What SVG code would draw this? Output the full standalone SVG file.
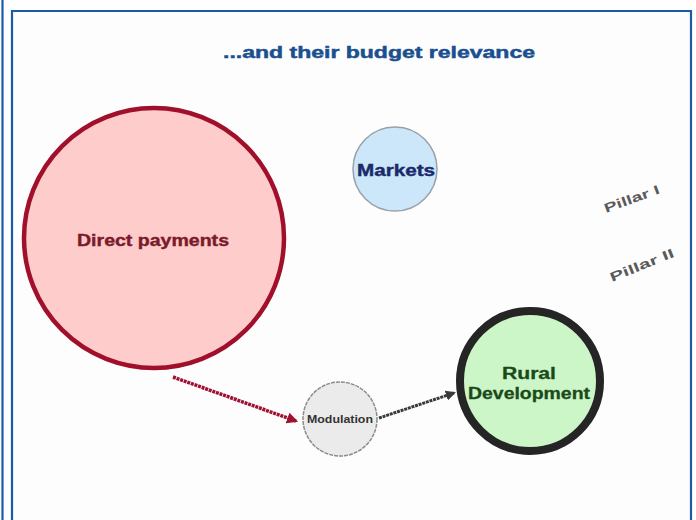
<svg xmlns="http://www.w3.org/2000/svg" width="696" height="520" viewBox="0 0 696 520">
  <style>
    .frame { fill: none; stroke: #1a5aa8; stroke-width: 2.2; }
    .lbl { font-family: "Liberation Sans", Arial, sans-serif; font-weight: bold; text-anchor: middle; }
    .pillar { font-family: "Liberation Sans", Arial, sans-serif; font-weight: bold; font-size: 13px; fill: #5a5a5a; }
  </style>
  <defs>
    <marker id="headRed" viewBox="0 0 10 10" refX="8" refY="5" markerWidth="3.2" markerHeight="3.2" orient="auto">
      <path d="M0,0 L10,5 L0,10 z" fill="#a01030"/>
    </marker>
    <marker id="headGray" viewBox="0 0 10 10" refX="8" refY="5" markerWidth="3.4" markerHeight="3.4" orient="auto">
      <path d="M0,0 L10,5 L0,10 z" fill="#3a3a3a"/>
    </marker>
  </defs>

  <rect x="0" y="0" width="696" height="520" fill="#ffffff"/>
  <rect x="12" y="11" width="679" height="520" fill="#fdfdfd"/>

  <!-- page frames -->
  <line x1="2.5" y1="0" x2="2.5" y2="520" class="frame"/>
  <path d="M12,525 L12,11 L691,11 L691,525" class="frame"/>

  <!-- title -->
  <text x="379" y="58" class="lbl" font-size="17" fill="#1a5090" stroke="#1a5090" stroke-width="0.5" textLength="312" lengthAdjust="spacingAndGlyphs">...and their budget relevance</text>

  <!-- connectors -->
  <g id="connectors">
    <line x1="173" y1="377" x2="296" y2="421" stroke="#a01030" stroke-width="3.5" stroke-dasharray="3 0.8" marker-end="url(#headRed)"/>
    <line x1="379" y1="418" x2="454" y2="393" stroke="#3a3a3a" stroke-width="3" stroke-dasharray="3 0.8" marker-end="url(#headGray)"/>
  </g>

  <g id="direct-payments">
    <circle cx="154" cy="238" r="130" fill="#ffcccc" stroke="#a0102a" stroke-width="4.5"/>
    <text x="153" y="246" class="lbl" font-size="16" fill="#7a1a2a" stroke="#7a1a2a" stroke-width="0.4" textLength="152" lengthAdjust="spacingAndGlyphs">Direct payments</text>
  </g>

  <g id="markets">
    <circle cx="395" cy="169" r="42" fill="#cce6fa" stroke="#9aa0a8" stroke-width="1.5"/>
    <text x="396" y="176" class="lbl" font-size="16" fill="#1a2a6a" stroke="#1a2a6a" stroke-width="0.4" textLength="78" lengthAdjust="spacingAndGlyphs">Markets</text>
  </g>

  <g id="modulation">
    <circle cx="340" cy="419" r="37" fill="#ebebeb" stroke="#8c8c8c" stroke-width="1.5" stroke-dasharray="4 1"/>
    <text x="340" y="423" class="lbl" font-size="10" fill="#333333" textLength="66" lengthAdjust="spacingAndGlyphs">Modulation</text>
  </g>

  <g id="rural-development">
    <circle cx="530" cy="381" r="70" fill="#ccf5c8" stroke="#252525" stroke-width="8"/>
    <text x="529" y="379" class="lbl" font-size="16" fill="#1a4a1a" stroke="#1a4a1a" stroke-width="0.3" textLength="54" lengthAdjust="spacingAndGlyphs">Rural</text>
    <text x="529" y="399" class="lbl" font-size="16" fill="#1a4a1a" stroke="#1a4a1a" stroke-width="0.3" textLength="122" lengthAdjust="spacingAndGlyphs">Development</text>
  </g>

  <g id="pillar-1">
    <text x="606" y="213" class="pillar" transform="rotate(-20 606 213)" textLength="58" lengthAdjust="spacingAndGlyphs">Pillar I</text>
  </g>
  <g id="pillar-2">
    <text x="612" y="282" class="pillar" transform="rotate(-22 612 282)" textLength="68" lengthAdjust="spacingAndGlyphs">Pillar II</text>
  </g>
</svg>
